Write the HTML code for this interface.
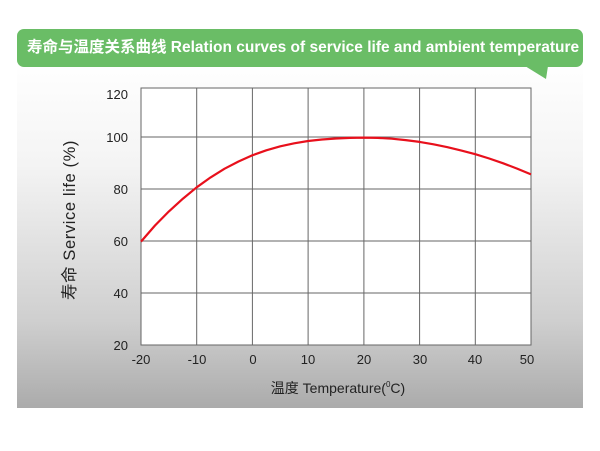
<!DOCTYPE html>
<html><head><meta charset="utf-8"><style>
body{margin:0;width:600px;height:451px;background:#fff;overflow:hidden;position:relative;font-family:"Liberation Sans","Noto Sans CJK SC",sans-serif}
.bg{position:absolute;left:17px;top:60px;width:566px;height:348px;background:linear-gradient(#fff 0%,#f4f4f4 30%,#cfcfcf 75%,#ababab 100%)}
.bar{position:absolute;left:17px;top:29px;width:566px;height:38px;background:#6abd66;border-radius:7px;color:#fff;font-weight:bold;font-size:15.5px;line-height:38px;padding-left:10px;box-sizing:border-box;white-space:nowrap}
</style></head><body>
<div class="bg"></div>
<div class="bar">寿命与温度关系曲线 Relation curves of service life and ambient temperature</div>
<svg width="600" height="451" style="position:absolute;left:0;top:0" font-family="Liberation Sans, Noto Sans CJK SC, sans-serif">
<polygon points="525,66 548,66 546,79" fill="#6abd66"/>
<rect x="141" y="88" width="390" height="257" fill="#fff" stroke="#666" stroke-width="1"/>
<g stroke="#666" stroke-width="1">
<line x1="196.7" y1="88" x2="196.7" y2="345"/><line x1="252.4" y1="88" x2="252.4" y2="345"/><line x1="308.1" y1="88" x2="308.1" y2="345"/><line x1="363.9" y1="88" x2="363.9" y2="345"/><line x1="419.6" y1="88" x2="419.6" y2="345"/><line x1="475.3" y1="88" x2="475.3" y2="345"/>
<line x1="141" y1="137" x2="531" y2="137"/><line x1="141" y1="189" x2="531" y2="189"/><line x1="141" y1="241" x2="531" y2="241"/><line x1="141" y1="293" x2="531" y2="293"/>
</g>
<polyline points="141,241.6 155,225.5 168.9,211.4 183,198.6 196.7,187.3 210.6,177.4 224.6,168.7 238.5,161.5 252.4,155.3 266.3,150.3 280.3,146.3 294.2,143.3 308.1,141.0 322,139.5 336,138.5 350,137.9 363.9,137.6 377.8,137.9 391.8,138.7 405.7,140.1 419.6,141.9 433.5,144.3 447.5,147.2 461.4,150.6 475.3,154.2 489.2,158.5 503.2,163.3 517.1,168.6 531,174.4" fill="none" stroke="#e8101c" stroke-width="2.2" stroke-linejoin="round"/>
<g font-size="13" fill="#222" text-anchor="end">
<text x="128" y="99">120</text><text x="128" y="142">100</text><text x="128" y="194">80</text><text x="128" y="246">60</text><text x="128" y="298">40</text><text x="128" y="350">20</text>
</g>
<g font-size="13" fill="#222" text-anchor="middle">
<text x="141" y="364">-20</text><text x="197" y="364">-10</text><text x="253" y="364">0</text><text x="308" y="364">10</text><text x="364" y="364">20</text><text x="420" y="364">30</text><text x="475" y="364">40</text><text x="527" y="364">50</text>
</g>
<text x="338" y="393" font-size="14" fill="#222" text-anchor="middle">温度 Temperature(<tspan font-size="8" dy="-6">0</tspan><tspan dy="6">C)</tspan></text>
<text transform="translate(75,220) rotate(-90)" font-size="16.5" letter-spacing="0.6" fill="#222" text-anchor="middle">寿命 Service life (%)</text>
</svg>
</body></html>
